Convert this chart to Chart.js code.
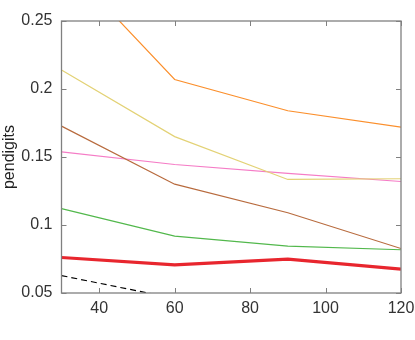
<!DOCTYPE html>
<html>
<head>
<meta charset="utf-8">
<script src="https://cdn.jsdelivr.net/npm/chart.js@4.4.0/dist/chart.umd.min.js"></script>
<style>
  html, body { margin: 0; padding: 0; background: #fff; }
  #wrap { width: 415px; height: 340px; }
</style>
</head>
<body>
<div id="wrap"><canvas id="canvas" width="415" height="340"></canvas></div>
<script>
// values (x = 30, 60, 90, 120)
const xValues = [30, 60, 90, 120];
const orange = [0.295, 0.207, 0.184, 0.172];
const khaki = [0.214, 0.165, 0.1335, 0.134];
const brown = [0.1727, 0.130, 0.109, 0.0827];
const pink = [0.1538, 0.1445, 0.138, 0.132];
const green = [0.112, 0.0918, 0.0844, 0.0818];
const red = [0.0761, 0.0707, 0.0749, 0.0675];
const black = [0.0628, 0.046, 0.040, 0.035];

const xTicks = [40, 60, 80, 100, 120];
const yTicks = [0.05, 0.1, 0.15, 0.2, 0.25];

function pts(ys) {
  return xValues.map((x, i) => ({ x: x, y: ys[i] }));
}

function line(data, color, width, dash) {
  return {
    data: pts(data),
    borderColor: color,
    borderWidth: width,
    borderDash: dash || [],
    pointRadius: 0,
    tension: 0,
    fill: false,
  };
}

// inward tick marks on all four sides, like the original
const innerTicks = {
  id: "innerTicks",
  afterDraw(chart) {
    const { ctx, chartArea: a, scales } = chart;
    ctx.save();
    ctx.strokeStyle = "#808080";
    ctx.lineWidth = 1;
    ctx.beginPath();
    xTicks.forEach((v) => {
      const px = Math.round(scales.x.getPixelForValue(v)) + 0.5;
      ctx.moveTo(px, a.bottom);
      ctx.lineTo(px, a.bottom - 5);
      ctx.moveTo(px, a.top);
      ctx.lineTo(px, a.top + 5);
    });
    yTicks.forEach((v) => {
      const py = Math.round(scales.y.getPixelForValue(v)) + 0.5;
      ctx.moveTo(a.left, py);
      ctx.lineTo(a.left + 5, py);
      ctx.moveTo(a.right, py);
      ctx.lineTo(a.right - 5, py);
    });
    ctx.stroke();
    ctx.lineWidth = 1.3;
    ctx.strokeRect(a.left, a.top, a.right - a.left, a.bottom - a.top);
    ctx.restore();
  },
};

new Chart(document.getElementById("canvas"), {
  type: "line",
  data: {
    datasets: [
      line(orange, "#fb8f2c", 1.2),
      line(khaki, "#e3d276", 1.2),
      line(brown, "#b86b3e", 1.2),
      line(pink, "#f57cc6", 1.2),
      line(green, "#52b84c", 1.2),
      line(red, "#e8262e", 3.2),
      line(black, "#000000", 1.2, [6, 4]),
    ],
  },
  plugins: [innerTicks],
  options: {
    responsive: false,
    animation: false,
    events: [],
    layout: { padding: { top: 21, right: 14, left: 0, bottom: 0 } },
    plugins: { legend: { display: false }, tooltip: { enabled: false } },
    scales: {
      x: {
        type: "linear",
        min: 30,
        max: 120,
        afterBuildTicks: (s) => { s.ticks = xTicks.map((v) => ({ value: v })); },
        afterFit: (s) => {
          s.height = 47;
          s.paddingLeft = 0;
          s.paddingRight = 0;
        },
        grid: { display: false, drawTicks: false },
        border: { display: false },
        ticks: {
          color: "#333",
          font: { family: "Liberation Sans", size: 16 },
          padding: 6,
          maxRotation: 0,
        },
      },
      y: {
        min: 0.05,
        max: 0.25,
        afterBuildTicks: (s) => { s.ticks = yTicks.map((v) => ({ value: v })); },
        afterFit: (s) => {
          s.width = 61.5;
          s.paddingTop = 0;
          s.paddingBottom = 0;
        },
        grid: { display: false, drawTicks: false },
        border: { display: false },
        title: {
          display: true,
          text: "pendigits",
          color: "#222",
          font: { family: "Liberation Sans", size: 16 },
          padding: 0,
        },
        ticks: {
          color: "#333",
          font: { family: "Liberation Sans", size: 16 },
          padding: 9,
          callback: (v) => String(v),
        },
      },
    },
  },
});
</script>
</body>
</html>
